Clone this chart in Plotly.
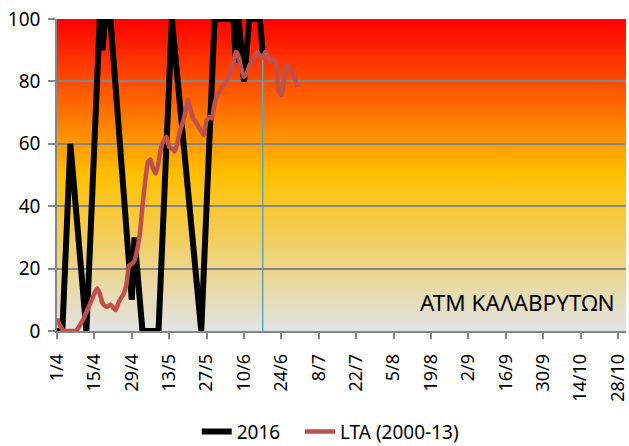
import base64
import pandas as pd
import plotly.graph_objects as go

# ---- data ----
dates_2016 = ["2016-04-01", "2016-04-03", "2016-04-06", "2016-04-12", "2016-04-17",
              "2016-04-18", "2016-04-19", "2016-04-21", "2016-04-29", "2016-04-30",
              "2016-05-03", "2016-05-09", "2016-05-14", "2016-05-25", "2016-05-30",
              "2016-06-06", "2016-06-07", "2016-06-08", "2016-06-10", "2016-06-12",
              "2016-06-16", "2016-06-17"]
vals_2016 = [0, 0, 60, 0, 100, 90, 100, 100, 10, 30, 0, 0, 100, 0, 100,
             100, 86, 100, 80, 100, 100, 89]

lta_start = "2016-04-01"
lta_vals = [4, 2, 0.5, 0, 0, 0, 0, 0, 1, 2.5,
            4, 6, 8, 10, 12, 13.7, 12, 9, 8, 7.8,
            8.5, 7.5, 6.7, 9, 10.6, 12, 15, 21, 21.5, 22.5,
            26, 31, 40, 48, 54, 55, 52, 50.5, 54, 59,
            61, 62.3, 59, 58.5, 57.5, 60, 64, 66.5, 70, 74,
            71, 68, 67, 65.5, 64, 62.8, 67.5, 68.5, 68.2, 73,
            75.5, 77, 78.5, 79.5, 81, 83, 86, 89.5, 88, 84,
            81.5, 82.5, 85, 86.3, 88, 89.5, 88, 87.5, 89.5, 87.5,
            86.3, 87.4, 86, 77, 75.6, 80.5, 85.3, 84, 83, 81,
            78.3]
lta_dates = pd.date_range(lta_start, periods=len(lta_vals), freq="D")

today_marker = "2016-06-17"
station_label = "ATM ΚΑΛΑΒΡΥΤΩΝ"
legend_names = ["2016", "LTA (2000-13)"]
x_range = ["2016-04-01", "2016-10-31"]
y_ticks = [0, 20, 40, 60, 80, 100]

FONT = "Noto Sans"
PAD = "\u00a0" * 3

# gradient background as svg image
svg = ('<svg xmlns="http://www.w3.org/2000/svg" width="100" height="100" viewBox="0 0 100 100" '
       'preserveAspectRatio="none"><defs><linearGradient id="g" x1="0" y1="0" x2="0" y2="1">'
       '<stop offset="0" stop-color="#FF0000"/><stop offset="0.5" stop-color="#FFC000"/>'
       '<stop offset="1" stop-color="#E1E3E6"/></linearGradient></defs>'
       '<rect width="100" height="100" fill="url(#g)"/></svg>')
svg_uri = "data:image/svg+xml;base64," + base64.b64encode(svg.encode("utf-8")).decode("ascii")

fig = go.Figure()
fig.add_trace(go.Scatter(x=dates_2016, y=vals_2016, mode="lines", name=legend_names[0] + PAD,
                         line=dict(color="#000000", width=6)))
fig.add_trace(go.Scatter(x=lta_dates, y=lta_vals, mode="lines", name=legend_names[1],
                         line=dict(color="#C0504D", width=4.5, shape="spline", smoothing=0.4)))

fig.add_shape(type="line", xref="x", yref="paper", x0=today_marker, x1=today_marker,
              y0=0, y1=1, line=dict(color="#4BACC6", width=1.5), layer="below")

fig.add_layout_image(dict(source=svg_uri, xref="paper", yref="paper", x=0, y=1,
                          sizex=1, sizey=1, xanchor="left", yanchor="top",
                          sizing="stretch", layer="below"))

fig.add_annotation(text=station_label, xref="paper", yref="y", x=0.985, y=9,
                   xanchor="right", yanchor="middle", showarrow=False,
                   font=dict(family=FONT, size=22.5, color="#000000"))

fig.update_layout(
    width=629, height=446,
    margin=dict(l=57, r=0, t=19, b=115),
    paper_bgcolor="white", plot_bgcolor="rgba(0,0,0,0)",
    font=dict(family=FONT, size=18, color="#000000"),
    showlegend=True,
    legend=dict(orientation="h", xref="container", yref="container",
                x=0.525, xanchor="center", y=0.032, yanchor="middle",
                font=dict(family=FONT, size=19), bgcolor="rgba(0,0,0,0)"),
    xaxis=dict(type="date", range=x_range, tick0="2016-04-01", dtick=14 * 86400000,
               tickformat="%-d/%-m", tickangle=-90, showgrid=False,
               showline=True, linecolor="#868686", linewidth=1.5,
               ticks="outside", ticklen=6, tickcolor="#868686", tickwidth=1.5,
               ticklabelstandoff=8, ticklabeloverflow="allow",
               tickfont=dict(family=FONT, size=18)),
    yaxis=dict(range=[0, 100], tickvals=y_ticks, showgrid=True, gridcolor="#868686",
               gridwidth=1.5, showline=True, linecolor="#868686", linewidth=1.5,
               ticks="outside", ticklen=7, tickcolor="#868686", tickwidth=1.5,
               ticklabelstandoff=4,
               zeroline=False, tickfont=dict(family=FONT, size=19)),
)

fig.write_html("out.html", config={"displayModeBar": False},
               post_script="document.body.style.margin='0';document.body.style.overflow='hidden';")
